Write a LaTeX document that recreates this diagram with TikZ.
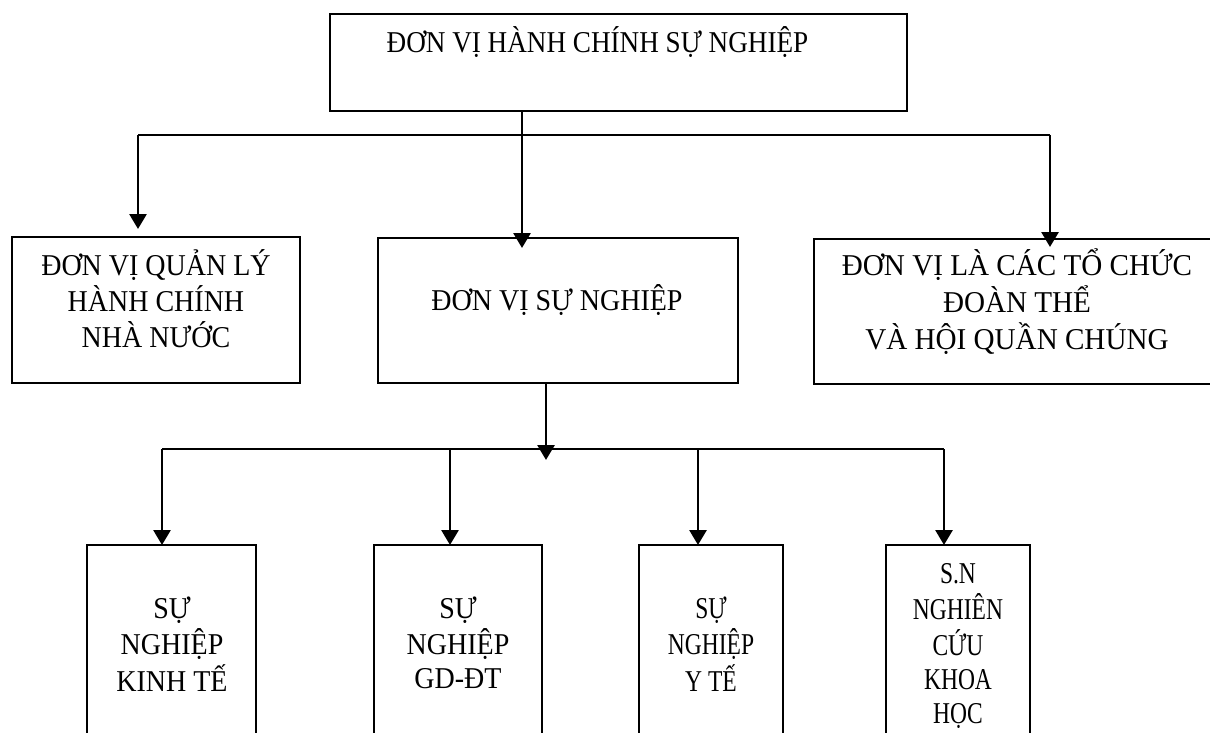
\documentclass[tikz,border=0pt]{standalone}
\usepackage{fontspec}
\setmainfont{Liberation Serif}
\usepackage{graphicx}
\usetikzlibrary{arrows.meta}
\newcommand\mlines[1]{\begin{tabular}[t]{@{}c@{}}#1\end{tabular}}
\newcommand\tallt[2][1]{\scalebox{#1}[1.08]{#2}}
\begin{document}
\begin{tikzpicture}[x=1pt,y=1pt,
  box/.style={draw, line width=2.3pt, inner sep=0pt, outer sep=0pt},
  lbl/.style={anchor=base, inner sep=0pt, font=\fontsize{28}{31.5}\selectfont},
  ln/.style={line width=2.8pt},
  arr/.style={line width=2.8pt, -{Triangle[length=15pt,width=17pt]}}]
\useasboundingbox (0,0) rectangle (1210,-733);
\clip (0,0) rectangle (1210,-733);
% boxes
\node[box, minimum width=577pt, minimum height=97pt] (top) at (618.5,-62.5) {};
\node[box, minimum width=288pt, minimum height=146pt] (L) at (156,-310) {};
\node[box, minimum width=360pt, minimum height=145pt] (M) at (558,-310.5) {};
\node[box, minimum width=410pt, minimum height=145pt] (R) at (1019,-311.5) {};
\node[box, minimum width=169pt, minimum height=225pt] (B1) at (171.5,-657.5) {};
\node[box, minimum width=168pt, minimum height=225pt] (B2) at (458,-657.5) {};
\node[box, minimum width=144pt, minimum height=225pt] (B3) at (711,-657.5) {};
\node[box, minimum width=144pt, minimum height=225pt] (B4) at (958,-657.5) {};
% texts
\node[lbl] (tTop) at (597.5,-53) {\tallt[0.97]{ĐƠN VỊ HÀNH CHÍNH SỰ NGHIỆP}};
\node[lbl] (tL) at (156,-275) {\tallt{\mlines{ĐƠN VỊ QUẢN LÝ\\HÀNH CHÍNH\\NHÀ NƯỚC}}};
\node[lbl] (tM) at (557,-310) {\tallt{ĐƠN VỊ SỰ NGHIỆP}};
\node[lbl, font=\fontsize{28}{32.9}\selectfont] (tR) at (1017,-275) {\tallt[1.04]{\mlines{ĐƠN VỊ LÀ CÁC TỔ CHỨC\\ĐOÀN THỂ\\VÀ HỘI QUẦN CHÚNG}}};
\node[lbl] (tB1) at (172,-618) {\tallt{\mlines{SỰ\\NGHIỆP\\KINH TẾ}}};
\node[lbl] (tB2) at (458,-618) {\tallt{\mlines{SỰ\\NGHIỆP\\GD-ĐT}}};
\node[lbl] (tB3) at (711,-618) {\tallt[0.84]{\mlines{SỰ\\NGHIỆP\\Y TẾ}}};
\node[lbl] (tB4) at (958,-583) {\tallt[0.84]{\mlines{S.N\\NGHIÊN\\CỨU\\KHOA\\HỌC}}};
% upper connectors
\coordinate (a1) at (138,-135);
\coordinate (a2) at (522,-135);
\coordinate (a3) at (1050,-135);
\draw[ln] (a1) -- (a3);
\draw[arr, shorten >=-10pt] (top.south -| a2) -- (a2 |- M.north);
\draw[arr, shorten >=8pt] (a1) -- (a1 |- L.north);
\draw[arr, shorten >=-8pt] (a3) -- (a3 |- R.north);
% lower connectors
\coordinate (bm) at (546,-449);
\coordinate (b1) at (162,-449);
\coordinate (b2) at (450,-449);
\coordinate (b3) at (698,-449);
\coordinate (b4) at (944,-449);
\draw[ln] (b1) -- (b4);
\draw[arr, shorten >=-11pt] (M.south -| bm) -- (bm);
\draw[arr] (b1) -- (b1 |- B1.north);
\draw[arr] (b2) -- (b2 |- B2.north);
\draw[arr] (b3) -- (b3 |- B3.north);
\draw[arr] (b4) -- (b4 |- B4.north);
\end{tikzpicture}
\end{document}
